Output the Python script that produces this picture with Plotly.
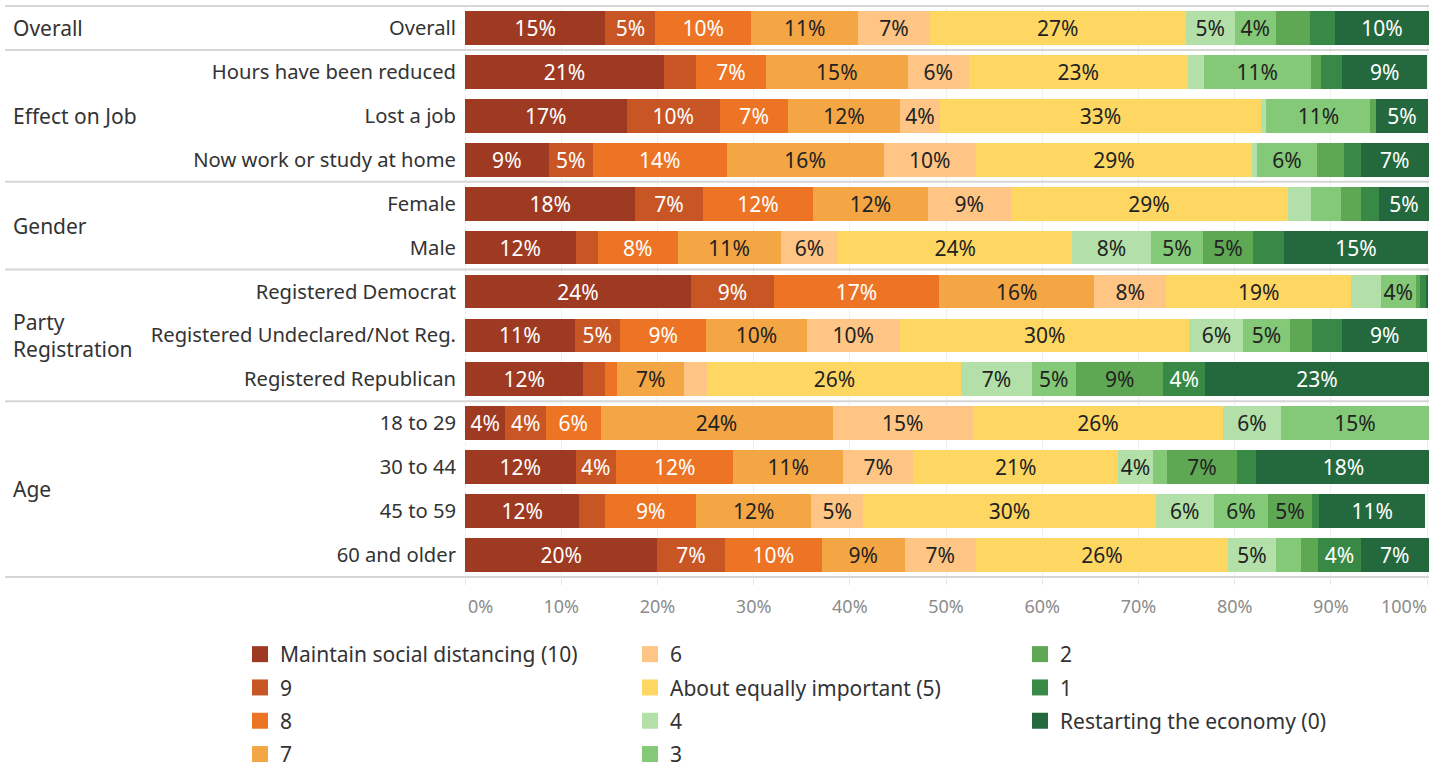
import plotly.graph_objects as go

# ---------------- data ----------------
rows = ["Overall", "Hours have been reduced", "Lost a job", "Now work or study at home",
        "Female", "Male", "Registered Democrat", "Registered Undeclared/Not Reg.",
        "Registered Republican", "18 to 29", "30 to 44", "45 to 59", "60 and older"]

groups = ["Overall", "Effect on Job", "Gender", "Party<br>Registration", "Age"]
group_first = [0, 1, 4, 6, 9]
group_last = [0, 3, 5, 8, 12]

responses = ["Maintain social distancing (10)", "9", "8", "7", "6",
             "About equally important (5)", "4", "3", "2", "1",
             "Restarting the economy (0)"]

v10 = [14.6, 20.7, 16.8, 8.7, 17.7, 11.5, 23.5, 11.4, 12.3, 4.2, 11.5, 11.9, 20.0]
v9 = [5.2, 3.3, 9.7, 4.6, 7.0, 2.3, 8.6, 4.7, 2.3, 4.2, 4.2, 2.7, 7.0]
v8 = [9.9, 7.3, 7.1, 13.9, 11.5, 8.3, 17.2, 9.0, 1.2, 5.7, 12.2, 9.4, 10.1]
v7 = [11.2, 14.7, 11.6, 16.3, 11.9, 10.7, 16.1, 10.4, 7.0, 24.1, 11.4, 12.0, 8.6]
v6 = [7.4, 6.4, 4.2, 9.6, 8.6, 6.0, 7.5, 9.7, 2.4, 14.6, 7.3, 5.4, 7.4]
v5 = [26.6, 22.7, 33.3, 28.7, 28.8, 24.3, 19.2, 30.1, 26.4, 26.0, 21.3, 30.4, 26.2]
v4 = [5.1, 1.7, 0.6, 0.5, 2.4, 8.2, 3.1, 5.6, 7.3, 6.0, 3.6, 6.0, 5.0]
v3 = [4.3, 11.1, 10.8, 6.3, 3.2, 5.4, 3.6, 4.8, 4.6, 15.4, 1.5, 5.7, 2.6]
v2 = [3.5, 1.1, 0.6, 2.8, 2.0, 5.2, 0.5, 2.3, 9.1, 0.0, 7.2, 4.5, 1.8]
v1 = [2.6, 2.2, 0.0, 1.7, 1.9, 3.2, 0.6, 3.2, 4.3, 0.0, 2.0, 0.8, 4.4]
v0 = [9.8, 8.8, 5.4, 7.1, 5.2, 15.0, 0.2, 8.8, 23.3, 0.0, 18.2, 11.0, 7.1]

series = [v10, v9, v8, v7, v6, v5, v4, v3, v2, v1, v0]

x_ticks = [0, 10, 20, 30, 40, 50, 60, 70, 80, 90, 100]
x_ticktext = ["0%", "10%", "20%", "30%", "40%", "50%", "60%", "70%", "80%", "90%", "100%"]

colors = ["#9e3a22", "#c85624", "#ec7424", "#f4a644", "#fec584", "#fed763",
          "#b2e0a8", "#84c977", "#5ea853", "#388945", "#23693d"]
text_colors = ["#ffffff", "#ffffff", "#ffffff", "#222222", "#222222", "#222222",
               "#222222", "#222222", "#222222", "#ffffff", "#ffffff"]
legend_ids = ["legend", "legend", "legend", "legend", "legend2", "legend2",
              "legend2", "legend2", "legend3", "legend3", "legend3"]

FONT = "Noto Sans"
TICK_FONT = dict(family=FONT, size=18, color="#8c8c8c")

fig = go.Figure()
for i, (name, vals) in enumerate(zip(responses, series)):
    labels = [f"{int(v + 0.5)}%" if v >= 3.55 else "" for v in vals]
    fig.add_trace(go.Bar(
        y=rows, x=vals, orientation="h", name=name,
        marker=dict(color=colors[i], line=dict(width=0)),
        text=labels, textposition="inside", insidetextanchor="middle",
        textangle=0, constraintext="none",
        textfont=dict(family=FONT, size=21, color=text_colors[i]),
        showlegend=False, legendgroup=name,
        hovertemplate="%{y}<br>" + name + ": %{x:.1f}%<extra></extra>",
    ))

# legend entries (square swatches)
for i, name in enumerate(responses):
    fig.add_trace(go.Scatter(
        x=[None], y=[None], mode="markers", name=name,
        marker=dict(symbol="square", size=16, color=colors[i]),
        legend=legend_ids[i], legendgroup=name, showlegend=True,
        hoverinfo="skip",
    ))

# plot area geometry (pixels) used only for layout placement
L, R, T, B = 465, 11, 5, 192
W = 1440 - L - R


def px_x(p):
    return (p - L) / W


shapes = []
for pos in [-0.5, 0.5, 3.5, 5.5, 8.5, 12.5]:
    shapes.append(dict(type="line", xref="paper", yref="y", x0=px_x(5), x1=1,
                       y0=pos, y1=pos, line=dict(color="#d6d6d6", width=2), layer="above"))
shapes.append(dict(type="line", xref="x", yref="paper", x0=0, x1=0, y0=0, y1=1,
                   line=dict(color="#d0d0d0", width=1, dash="dot"), layer="below"))

annotations = []
for g, a, b in zip(groups, group_first, group_last):
    annotations.append(dict(text=g, xref="paper", yref="y", x=px_x(11), y=(a + b) / 2,
                            xanchor="left", yanchor="middle", align="left", showarrow=False,
                            font=dict(family=FONT, size=21, color="#333333")))

# first and last x tick labels are drawn inset (as in the reference)
axis_ticktext = [""] + x_ticktext[1:-1] + [""]
annotations.append(dict(text=x_ticktext[0], xref="x", yref="paper", x=x_ticks[0], y=0,
                        xanchor="left", yanchor="middle", yshift=-28, xshift=1,
                        showarrow=False, font=TICK_FONT))
annotations.append(dict(text=x_ticktext[-1], xref="x", yref="paper", x=x_ticks[-1], y=0,
                        xanchor="right", yanchor="middle", yshift=-28, xshift=2,
                        showarrow=False, font=TICK_FONT))

legend_common = dict(orientation="v", yanchor="top", xanchor="left",
                     xref="container", yref="container",
                     font=dict(family=FONT, size=21, color="#333333"),
                     bgcolor="rgba(0,0,0,0)", tracegroupgap=3.0, itemclick=False,
                     itemdoubleclick=False, itemsizing="trace")

legend_top = (770 - 634) / 770

fig.update_layout(
    width=1440, height=770,
    margin=dict(l=L, r=R, t=T, b=B, pad=0, autoexpand=False),
    paper_bgcolor="white", plot_bgcolor="white",
    barmode="stack", bargap=0.23,
    font=dict(family=FONT, size=20, color="#333333"),
    xaxis=dict(range=[0, 100.2], tickvals=x_ticks, ticktext=axis_ticktext,
               showgrid=True, gridcolor="#efefef", gridwidth=1, zeroline=False,
               ticks="outside", ticklen=6, tickcolor="#e6e6e6",
               tickfont=TICK_FONT, ticklabelstandoff=6,
               showline=False, fixedrange=True),
    yaxis=dict(categoryorder="array", categoryarray=rows, autorange="reversed",
               ticks="", showgrid=False, zeroline=False, showline=False,
               tickfont=dict(family=FONT, size=20.2, color="#333333"),
               ticklabelstandoff=8, fixedrange=True),
    shapes=shapes, annotations=annotations,
    legend=dict(x=240 / 1440, y=legend_top, **legend_common),
    legend2=dict(x=630 / 1440, y=legend_top, **legend_common),
    legend3=dict(x=1020 / 1440, y=legend_top, **legend_common),
    showlegend=True,
)

fig.write_html("out.html")
